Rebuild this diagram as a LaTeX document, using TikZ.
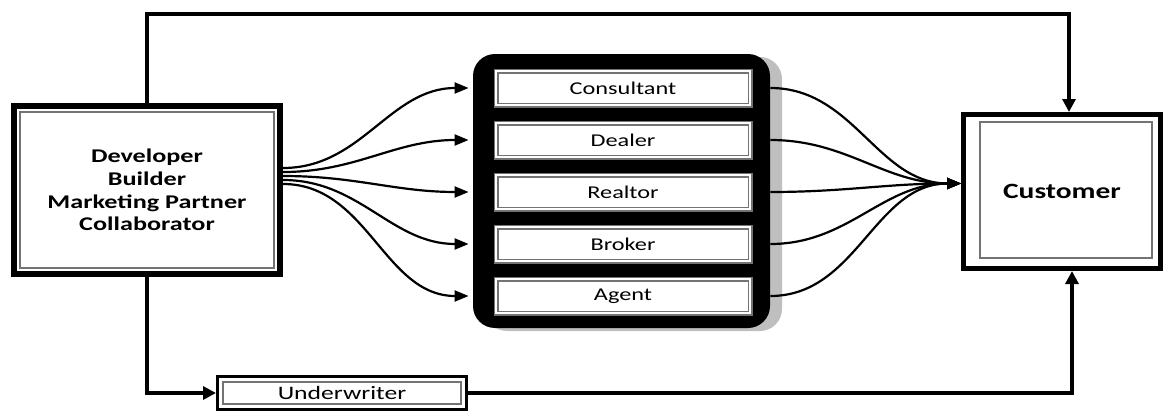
\documentclass[tikz,border=0pt]{standalone}
\usepackage{fontspec}
\setmainfont{Carlito}[FakeStretch=1.35]
\usetikzlibrary{arrows.meta,shadows}

\begin{document}
\begin{tikzpicture}[x=0.5pt, y=-0.5pt,
        arr/.style = {-{Triangle[length=6.5pt,width=6.5pt]}, line width=1.6pt},
        flow/.style = {-{Triangle[length=7pt,width=5.5pt]}, line width=1.1pt},
        frame/.style = {draw=black!55, line width=0.6pt},
        role/.style = {draw=black!55, double=white, double distance=1.3pt, line width=0.6pt,
            fill=white, minimum width=127pt, minimum height=17pt, inner sep=0pt,
            font=\fontsize{9}{10}\selectfont}]
        \useasboundingbox (0,0) rectangle (1164,412);
        \coordinate (top) at (0,14);

        \node[draw, line width=3pt, minimum width=133pt, minimum height=84pt, align=center,
            font=\bfseries\fontsize{9.7}{11.4}\selectfont] (dev) at (147,190)
            {Developer\\Builder\\Marketing Partner\\Collaborator};
        \draw[frame] ([shift={(4.5pt,-4.5pt)}]dev.north west) rectangle ([shift={(-4.5pt,4.5pt)}]dev.south east);

        \node[draw, line width=2.5pt, minimum width=98.5pt, minimum height=77pt,
            font=\bfseries\fontsize{10.9}{12}\selectfont] (cust) at (1062,191.5) {Customer};
        \draw[frame] ([shift={(9.5pt,-5pt)}]cust.north west) rectangle ([shift={(-5.5pt,6.5pt)}]cust.south east);

        \node[draw, line width=1.5pt, minimum width=124.5pt, minimum height=16.5pt,
            font=\fontsize{9.5}{10}\selectfont] (under) at (342,393) {Underwriter};
        \draw[frame] ([shift={(3.5pt,-3.5pt)}]under.north west) rectangle ([shift={(-3.5pt,3.5pt)}]under.south east);

        % channel block
        \node[fill=black, rounded corners=11pt, minimum width=148.5pt, minimum height=137pt,
            drop shadow={shadow xshift=6pt, shadow yshift=-1.5pt, fill=black!25, opacity=1}] (mid) at (621.5,191) {};
        \foreach \name/\txt/\y in {cons/Consultant/88, deal/Dealer/140, real/Realtor/192, brok/Broker/244, agen/Agent/296}
            \node[role] (\name) at (623,\y) {\txt};

        \foreach \name/\s in {cons/11, deal/9, real/7, brok/5, agen/3} {
            \draw[flow] ([yshift=\s pt]dev.east) to[out=0,in=180] ([xshift=-2pt]mid.west |- \name.west);
            \draw[flow] (mid.east |- \name.east) to[out=0,in=180] ([yshift=4pt]cust.west);
        }

        \draw[arr] (dev.north) -- (dev.north |- top) -| ([xshift=3.5pt]cust.north);
        \draw[arr] (dev.south) |- (under.west);
        \draw[arr] (under.east) -| ([xshift=5pt]cust.south);
    \end{tikzpicture}
\end{document}
